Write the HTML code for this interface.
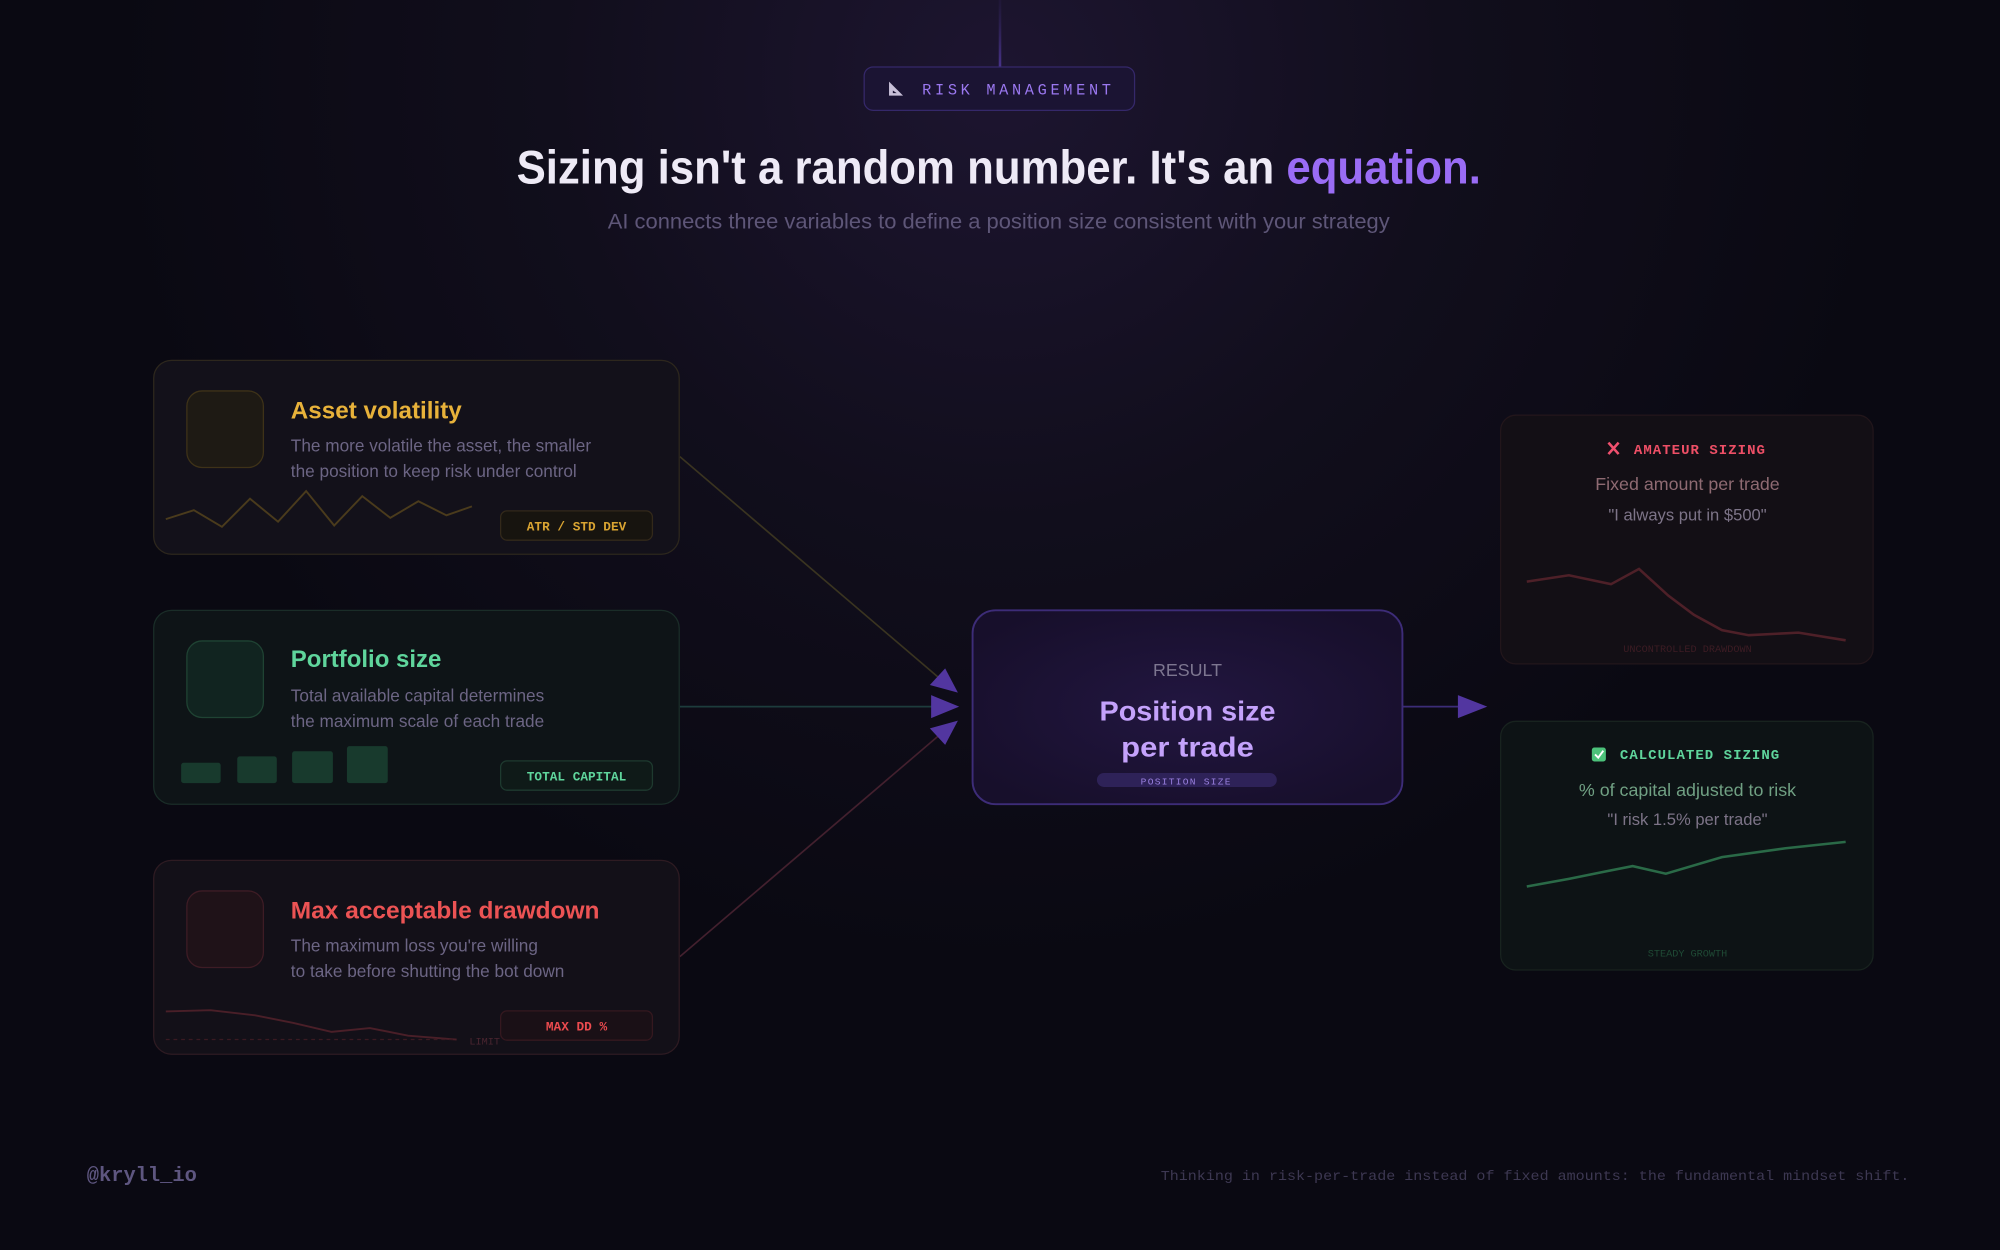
<!DOCTYPE html>
<html><head><meta charset="utf-8"><style>
html,body{margin:0;padding:0;background:#0b0a13;}
svg{display:block}
.s{font-family:"Liberation Sans",sans-serif}
.m{font-family:"Liberation Mono",monospace}
</style></head><body>
<svg width="2000" height="1250" viewBox="0 0 1568 980" xmlns="http://www.w3.org/2000/svg">
<defs>
<radialGradient id="g" cx="784" cy="60" r="700" gradientUnits="userSpaceOnUse">
<stop offset="0" stop-color="#1d1530"/><stop offset="0.5" stop-color="#110e1c"/><stop offset="1" stop-color="#0a0912"/></radialGradient>
<linearGradient id="vl" x1="0" y1="0" x2="0" y2="1"><stop offset="0" stop-color="#3a2a70" stop-opacity="0.2"/><stop offset="1" stop-color="#6a4ad0"/></linearGradient>
<radialGradient id="cg" cx="0.5" cy="0.5" r="0.6"><stop offset="0" stop-color="#221640"/><stop offset="1" stop-color="#170f2b"/></radialGradient>
</defs>
<rect width="1568" height="980" fill="url(#g)"/>
<rect x="783" y="0" width="2" height="62" fill="url(#vl)" opacity="0.7"/>
<!-- badge -->
<rect x="677.5" y="52.5" width="212" height="34" rx="7" fill="#1b1433" stroke="#35286a"/>
<path d="M697 64 L697 75 L708 75 Z" fill="#c8c0d8"/><path d="M700 71 L700 73 L703 73 Z" fill="#1b1433"/>
<text x="723" y="74" class="m" font-size="12" fill="#9b78f0" textLength="148" lengthAdjust="spacing">RISK MANAGEMENT</text>
<!-- title -->
<text x="783" y="144" class="s" font-size="37" font-weight="bold" text-anchor="middle" textLength="756" lengthAdjust="spacingAndGlyphs" fill="#eeeaf6">Sizing isn't a random number. It's an <tspan fill="#9a6cf5">equation.</tspan></text>
<text x="783" y="179" class="s" font-size="16.5" text-anchor="middle" textLength="613" lengthAdjust="spacingAndGlyphs" fill="#5e5678">AI connects three variables to define a position size consistent with your strategy</text>
<!-- connectors -->
<g stroke-width="1.3" fill="none">
<line x1="533" y1="358" x2="738" y2="533" stroke="#3a3420"/>
<line x1="533" y1="554" x2="735" y2="554" stroke="#1d3c3c"/>
<line x1="533" y1="750" x2="738" y2="575" stroke="#43202e"/>
<line x1="1099" y1="554" x2="1145" y2="554" stroke="#3c2c78"/>
</g>
<g fill="#5236a0">
<path d="M751 543 L729 537 L741 524 Z"/>
<path d="M752 554 L730 545 L730 563 Z"/>
<path d="M751 565 L741 584 L729 571 Z"/>
<path d="M1166 554 L1143 545 L1143 563 Z"/>
</g>
<!-- card1 -->
<rect x="120.5" y="282.5" width="412" height="152" rx="14" fill="#13111a" stroke="#2d271d"/>
<rect x="146.5" y="306.5" width="60" height="60" rx="12" fill="#1e1a14" stroke="#3e3218"/>
<text x="228" y="328" class="s" font-size="18.5" font-weight="bold" fill="#e8b23a" textLength="134" lengthAdjust="spacingAndGlyphs">Asset volatility</text>
<text x="228" y="354" class="s" font-size="13.5" fill="#6c6584">The more volatile the asset, the smaller</text>
<text x="228" y="374" class="s" font-size="13.5" fill="#6c6584">the position to keep risk under control</text>
<polyline points="130,407 152,400 174,413 196,391 218,409 240,385 262,412 284,389 306,406 328,393 350,404 370,397" fill="none" stroke="#4a3b1c" stroke-width="1.5"/>
<rect x="392.5" y="400.5" width="119" height="23" rx="5" fill="#17140f" stroke="#33291a"/>
<text x="452" y="416" class="m" font-size="10" font-weight="bold" text-anchor="middle" fill="#d9a432">ATR / STD DEV</text>
<!-- card2 -->
<rect x="120.5" y="478.5" width="412" height="152" rx="14" fill="#0e1417" stroke="#1a2d28"/>
<rect x="146.5" y="502.5" width="60" height="60" rx="12" fill="#112420" stroke="#1f4333"/>
<text x="228" y="523" class="s" font-size="18.5" font-weight="bold" fill="#5fd59c" textLength="118" lengthAdjust="spacingAndGlyphs">Portfolio size</text>
<text x="228" y="550" class="s" font-size="13.5" fill="#6c6584">Total available capital determines</text>
<text x="228" y="570" class="s" font-size="13.5" fill="#6c6584">the maximum scale of each trade</text>
<g fill="#183a2d"><rect x="142" y="598" width="31" height="16" rx="2"/><rect x="186" y="593" width="31" height="21" rx="2"/><rect x="229" y="589" width="32" height="25" rx="2"/><rect x="272" y="585" width="32" height="29" rx="2"/></g>
<rect x="392.5" y="596.5" width="119" height="23" rx="5" fill="#0f1a18" stroke="#1e3a2f"/>
<text x="452" y="612" class="m" font-size="10" font-weight="bold" text-anchor="middle" fill="#5fd59c">TOTAL CAPITAL</text>
<!-- card3 -->
<rect x="120.5" y="674.5" width="412" height="152" rx="14" fill="#131018" stroke="#2e1b22"/>
<rect x="146.5" y="698.5" width="60" height="60" rx="12" fill="#1f1218" stroke="#3e1c25"/>
<text x="228" y="720" class="s" font-size="18.5" font-weight="bold" fill="#ec5354" textLength="242" lengthAdjust="spacingAndGlyphs">Max acceptable drawdown</text>
<text x="228" y="746" class="s" font-size="13.5" fill="#6c6584">The maximum loss you're willing</text>
<text x="228" y="766" class="s" font-size="13.5" fill="#6c6584">to take before shutting the bot down</text>
<polyline points="130,793 165,792 200,796 230,802 260,809 290,806 320,812 358,815" fill="none" stroke="#4a1f28" stroke-width="1.5"/>
<line x1="130" y1="815" x2="358" y2="815" stroke="#3a1a22" stroke-dasharray="3,3"/>
<text x="368" y="819" class="m" font-size="8" fill="#4a2530">LIMIT</text>
<rect x="392.5" y="792.5" width="119" height="23" rx="5" fill="#1a1016" stroke="#35181f"/>
<text x="452" y="808" class="m" font-size="10" font-weight="bold" text-anchor="middle" fill="#ec4b4f">MAX DD %</text>
<!-- center -->
<rect x="762.5" y="478.5" width="337" height="152" rx="18" fill="url(#cg)" stroke="#3d2c78" stroke-width="1.5"/>
<text x="931" y="530" class="s" font-size="14" text-anchor="middle" fill="#7d7690">RESULT</text>
<text x="931" y="565" class="s" font-size="22" font-weight="bold" text-anchor="middle" fill="#c4a2fb" textLength="138" lengthAdjust="spacingAndGlyphs">Position size</text>
<text x="931" y="593" class="s" font-size="22" font-weight="bold" text-anchor="middle" fill="#c4a2fb" textLength="104" lengthAdjust="spacingAndGlyphs">per trade</text>
<rect x="860" y="606" width="141" height="11" rx="5.5" fill="#2e2258"/>
<text x="930" y="615" class="m" font-size="7.5" text-anchor="middle" fill="#9a80e0" letter-spacing="1">POSITION SIZE</text>
<!-- amateur -->
<rect x="1176.5" y="325.5" width="292" height="195" rx="12" fill="#130f15" stroke="#22161b"/>
<path d="M1261 347 L1269 356 M1269 347 L1261 356" stroke="#f0506e" stroke-width="2"/>
<text x="1281" y="356" class="m" font-size="11" font-weight="bold" fill="#ee4f66" letter-spacing="0.8">AMATEUR SIZING</text>
<text x="1323" y="384" class="s" font-size="14" text-anchor="middle" fill="#8e6a72">Fixed amount per trade</text>
<text x="1323" y="408" class="s" font-size="13" text-anchor="middle" fill="#7d7488">"I always put in $500"</text>
<polyline points="1197,456 1230,451 1263,458 1285,446 1308,467 1328,482 1350,494 1371,498 1410,496 1447,502" fill="none" stroke="#4e2028" stroke-width="2"/>
<text x="1323" y="511" class="m" font-size="8" text-anchor="middle" fill="#3d1c24">UNCONTROLLED DRAWDOWN</text>
<!-- calculated -->
<rect x="1176.5" y="565.5" width="292" height="195" rx="12" fill="#0d1315" stroke="#18231f"/>
<rect x="1248" y="586" width="11" height="11" rx="2" fill="#4cc27a"/>
<path d="M1250.5 591.5 L1253 594 L1257 588.5" stroke="#fff" stroke-width="1.5" fill="none"/>
<text x="1270" y="595" class="m" font-size="11" font-weight="bold" fill="#5fd59c" letter-spacing="0.8">CALCULATED SIZING</text>
<text x="1323" y="624" class="s" font-size="14" text-anchor="middle" fill="#70a083">% of capital adjusted to risk</text>
<text x="1323" y="647" class="s" font-size="13" text-anchor="middle" fill="#7d7488">"I risk 1.5% per trade"</text>
<polyline points="1197,695 1230,689 1260,683 1280,679 1306,685 1350,672 1400,665 1447,660" fill="none" stroke="#2a6a47" stroke-width="2"/>
<text x="1323" y="750" class="m" font-size="8" text-anchor="middle" fill="#1f4a35">STEADY GROWTH</text>
<!-- footer -->
<text x="68" y="926" class="m" font-size="16" font-weight="bold" fill="#5e5680">@kryll_io</text>
<text x="910" y="925" class="m" font-size="11" fill="#3d3852" textLength="587" lengthAdjust="spacingAndGlyphs">Thinking in risk-per-trade instead of fixed amounts: the fundamental mindset shift.</text>
</svg>
</body></html>
